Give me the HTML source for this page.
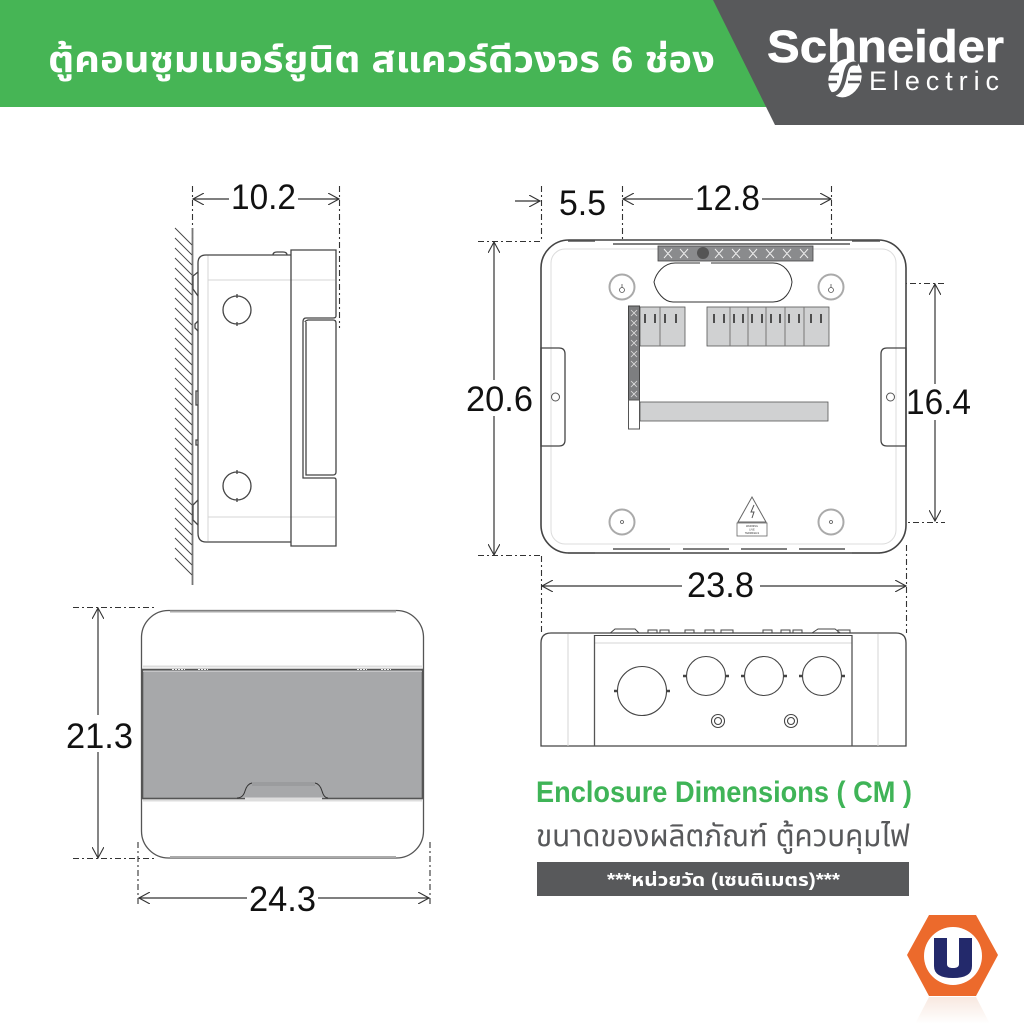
<!DOCTYPE html>
<html><head><meta charset="utf-8"><style>
html,body{margin:0;padding:0;background:#fff;width:1024px;height:1024px;overflow:hidden}
svg{display:block}
text{font-family:"Liberation Sans","Noto Sans Thai","Noto Sans CJK SC",sans-serif}
.d{font-size:35px;fill:#111}
.ln{fill:none;stroke:#333;stroke-width:1.2}
.ds{fill:none;stroke:#333;stroke-width:1.1;stroke-dasharray:6 3 2 3}
.o{fill:none;stroke:#444;stroke-width:1.3}
.lg{fill:none;stroke:#d4d4d4;stroke-width:1}
.b{fill:#d0d1d2;stroke:#555;stroke-width:.8}
</style></head><body>
<svg width="1024" height="1024" viewBox="0 0 1024 1024" xmlns="http://www.w3.org/2000/svg">
<defs>
<marker id="a" markerWidth="12" markerHeight="12" refX="11" refY="6" orient="auto-start-reverse" markerUnits="userSpaceOnUse"><path d="M0 0L11 6L0 12" fill="none" stroke="#333" stroke-width="1.1"/></marker>
<linearGradient id="rf" x1="0" y1="0" x2="0" y2="1"><stop offset="0" stop-color="#f3d9cb"/><stop offset="1" stop-color="#fff"/></linearGradient>
</defs>
<rect width="1024" height="1024" fill="#fff"/>

<!-- header -->
<polygon points="0,0 716,0 768,107 0,107" fill="#46b555"/>
<polygon points="713,0 1024,0 1024,125 775,125" fill="#58595b"/>
<text x="48" y="72" font-size="36" font-weight="700" fill="#fff" textLength="667" lengthAdjust="spacingAndGlyphs">ตู้คอนซูมเมอร์ยูนิต สแควร์ดีวงจร 6 ช่อง</text>
<text x="767" y="62" font-size="45" font-weight="700" fill="#fff" stroke="#fff" stroke-width=".6" textLength="237" lengthAdjust="spacingAndGlyphs">Schneider</text>
<text x="869" y="90" font-size="27" fill="#fff" textLength="130">Electric</text>
<g fill="none" stroke="#fff">
<ellipse cx="845" cy="78" rx="16" ry="20" transform="rotate(25 845 78)" fill="#fff" stroke="none"/>
<path d="M858 64C846 61 846 72 844 80S838 95 831 94" stroke="#58595b" stroke-width="4"/>
<path d="M825 74h14M823 82h14M850 74h14M848 82h12" stroke="#58595b" stroke-width="2.5"/>
</g>

<!-- side view -->
<path d="M192.500 186V240" class="ds"/><path d="M339.500 186V328" class="ds"/>
<line x1="193" y1="199" x2="229" y2="199" class="ln" marker-start="url(#a)"/>
<line x1="298" y1="199" x2="339" y2="199" class="ln" marker-end="url(#a)"/>
<text x="231" y="209" class="d" textLength="65" lengthAdjust="spacingAndGlyphs">10.2</text>
<line x1="192.500" y1="228" x2="192.500" y2="585" stroke="#777" stroke-width="1.8"/>
<path d="M175 228l17 17M175 238l17 17M175 248l17 17M175 258l17 17M175 268l17 17M175 278l17 17M175 288l17 17M175 298l17 17M175 308l17 17M175 318l17 17M175 328l17 17M175 338l17 17M175 348l17 17M175 358l17 17M175 368l17 17M175 378l17 17M175 388l17 17M175 398l17 17M175 408l17 17M175 418l17 17M175 428l17 17M175 438l17 17M175 448l17 17M175 458l17 17M175 468l17 17M175 478l17 17M175 488l17 17M175 498l17 17M175 508l17 17M175 518l17 17M175 528l17 17M175 538l17 17M175 548l17 17M175 558l17 17" stroke="#444" stroke-width=".9" fill="none"/>
<path d="M208 280H335M208 517H335M208 255V541M291 280V517" class="lg"/>
<path d="M291 255H206Q198 255 198 263V533Q198 542 206 542H291" class="o"/>
<path d="M273 255q0-3 4-3h6q4 0 4 3" class="o"/>
<path d="M198 272L193 276V289L198 296M198 500L193 505V520L198 525M198 321l-3 3v4l3 3M198 391h-2v14h2M198 440h-2v5h2" class="o"/>
<path d="M291 250H336V316Q336 318 333 318H306Q303 318 303 322V478H334Q336 478 336 480V546H291Z" class="o" fill="#fff"/>
<path d="M305 322Q305 321 308 320H333Q336 320 336 323V472Q336 475 333 475H306V322" class="o"/>
<circle cx="237" cy="310" r="14" class="o"/><path d="M237 294v4M237 322v4" class="o" stroke-width="2.500"/>
<circle cx="237" cy="486" r="14" class="o"/><path d="M237 470v4M237 498v4" class="o" stroke-width="2.500"/>

<!-- front view -->
<path d="M541.500 186V240M622.500 186V276M831.500 186V280M478 241.500H541M478 555.500H541M840 283.500H945M843 522.500H945M541.500 556V633M906.500 545V633" class="ds"/>
<line x1="515" y1="201" x2="540" y2="201" class="ln" marker-end="url(#a)"/>
<line x1="623" y1="199" x2="693" y2="199" class="ln" marker-start="url(#a)"/>
<line x1="762" y1="199" x2="831" y2="199" class="ln" marker-end="url(#a)"/>
<text x="559" y="215" class="d" textLength="47" lengthAdjust="spacingAndGlyphs">5.5</text>
<text x="695" y="210" class="d" textLength="65" lengthAdjust="spacingAndGlyphs">12.8</text>
<line x1="494" y1="242" x2="494" y2="380" class="ln" marker-start="url(#a)"/>
<line x1="494" y1="416" x2="494" y2="555" class="ln" marker-end="url(#a)"/>
<text x="466" y="411" class="d" textLength="67" lengthAdjust="spacingAndGlyphs">20.6</text>
<line x1="935" y1="284" x2="935" y2="384" class="ln" marker-start="url(#a)"/>
<line x1="935" y1="420" x2="935" y2="521" class="ln" marker-end="url(#a)"/>
<text x="906" y="414" class="d" textLength="65" lengthAdjust="spacingAndGlyphs">16.4</text>
<line x1="542" y1="586" x2="682" y2="586" class="ln" marker-start="url(#a)"/>
<line x1="760" y1="586" x2="906" y2="586" class="ln" marker-end="url(#a)"/>
<text x="687" y="597" class="d" textLength="67" lengthAdjust="spacingAndGlyphs">23.8</text>

<rect x="541" y="240" width="365" height="313" rx="28" fill="#fff" stroke="#444" stroke-width="1.600"/>
<rect x="551" y="249" width="345" height="295" rx="14" fill="none" stroke="#dcdcdc"/>
<path d="M568 241H595M852 241H880M568 553H595M852 553H880M613 549H670M683 549H729M741 549H787M799 549H845M613 244H850" stroke="#555" stroke-width="1.500" fill="none"/>
<rect x="658" y="246" width="155" height="15" fill="#8a8b8d" stroke="#444" stroke-width=".8"/>
<path d="M664 249l8 9m0-9l-8 9M680 249l8 9m0-9l-8 9M715 249l8 9m0-9l-8 9M732 249l8 9m0-9l-8 9M749 249l8 9m0-9l-8 9M766 249l8 9m0-9l-8 9M783 249l8 9m0-9l-8 9M800 249l8 9m0-9l-8 9" stroke="#eee" fill="none"/>
<circle cx="703" cy="253" r="6" fill="#555"/>
<path d="M711 263H773C784 263 791 273 792 282C791 292 784 302 773 302H673C664 302 656 292 654 282C656 273 664 263 675 263H700" fill="none" stroke="#333" stroke-width="1"/>
<g fill="#fff" stroke="#aaa" stroke-width="2"><circle cx="622" cy="287" r="12.500"/><circle cx="831" cy="287" r="12.500"/><circle cx="622" cy="522" r="12.500"/><circle cx="831" cy="522" r="12.500"/></g>
<g fill="none" stroke="#555" stroke-width=".8"><circle cx="622" cy="290" r="2.500"/><path d="M622 284v4"/><circle cx="831" cy="290" r="2.500"/><path d="M831 284v4"/><circle cx="622" cy="522" r="1.500"/><circle cx="831" cy="522" r="1.500"/></g>
<rect x="640" y="307" width="45" height="39" class="b"/><path d="M660 307v39" stroke="#777"/>
<rect x="707" y="307" width="122" height="39" class="b"/><path d="M730 307v39M748 307v39M766 307v39M785 307v39M804 307v39" stroke="#777"/>
<path d="M645 314v9M655 314v9M665 314v9M676 314v9M714 314v9M724 314v9M734 314v9M743 314v9M752 314v9M762 314v9M771 314v9M780 314v9M789 314v9M799 314v9M811 314v9M821 314v9" stroke="#222" stroke-width="1.500"/>
<rect x="628.500" y="306" width="11" height="94" fill="#7d7e80" stroke="#444"/>
<path d="M631 310l6 6m0-6l-6 6M631 320l6 6m0-6l-6 6M631 330l6 6m0-6l-6 6M631 340l6 6m0-6l-6 6M631 351l6 6m0-6l-6 6M631 361l6 6m0-6l-6 6M631 381l6 6m0-6l-6 6M631 391l6 6m0-6l-6 6" stroke="#ddd" stroke-width=".8"/>
<rect x="628.500" y="400" width="11" height="29" fill="#fff" stroke="#555"/>
<rect x="640" y="402" width="188" height="19" class="b"/>
<path d="M541 348H559Q565 348 565 354V440Q565 446 559 446H541Z" fill="#fff" class="o"/>
<path d="M906 348H887Q881 348 881 354V440Q881 446 887 446H906Z" fill="#fff" class="o"/>
<circle cx="555.500" cy="397" r="4" fill="none" stroke="#555"/><circle cx="890.500" cy="397" r="4" fill="none" stroke="#555"/>
<path d="M752 497L766 522H738Z" fill="#fff" stroke="#666"/><rect x="737" y="523" width="30" height="13" fill="#fff" stroke="#666" stroke-width=".8"/>
<path d="M754 505l-3 7h3l-2 6" stroke="#555" fill="none"/>
<text x="752" y="527" font-size="2.500" text-anchor="middle" fill="#333">WARNING</text>
<text x="752" y="530.500" font-size="2.500" text-anchor="middle" fill="#333">LIVE</text>
<text x="752" y="534" font-size="2.500" text-anchor="middle" fill="#333">TERMINALS</text>

<!-- bottom view -->
<path d="M608 635l7-6h20l6 6M809 635l9-6h17l8 6M648 635v-5h9v5M660 635v-5h9v5M685 635v-5h9v5M705 635v-5h9v5M721 635v-5h12v5M763 635v-5h9v5M781 635v-5h9v5M793 635v-5h9v5M838 635v-5h12v5" fill="none" stroke="#444"/>
<path d="M541 746V643Q541 633 551 633H896Q906 633 906 643V746Z" fill="#fff" stroke="#444" stroke-width="1.300"/>
<path d="M568 634V746M878 634V746M594 643H852" class="lg"/>
<path d="M594.500 635V746M852 635V746" stroke="#555" stroke-width="1.300"/>
<path d="M594 635.500H852" stroke="#444"/>
<g fill="#fff" stroke="#444" stroke-width="1.100"><circle cx="642" cy="691" r="24.500"/><circle cx="706" cy="676" r="19.500"/><circle cx="764" cy="676" r="19.500"/><circle cx="822" cy="676" r="19.500"/><circle cx="718" cy="721" r="6.500"/><circle cx="718" cy="721" r="3.500"/><circle cx="791" cy="721" r="6.500"/><circle cx="791" cy="721" r="3.500"/></g>
<path d="M614 691h3M667 691h3M683 676h3M726 676h3M741 676h3M784 676h3M799 676h3M842 676h3" stroke="#444" stroke-width="2.500"/>

<!-- door view -->
<path d="M73 607.500H155M73 858.500H155M138 842V905M430 842V905" class="ds"/>
<line x1="98" y1="608" x2="98" y2="715" class="ln" marker-start="url(#a)"/>
<line x1="98" y1="752" x2="98" y2="858" class="ln" marker-end="url(#a)"/>
<text x="66" y="748" class="d" textLength="67" lengthAdjust="spacingAndGlyphs">21.3</text>
<line x1="139" y1="898" x2="247" y2="898" class="ln" marker-start="url(#a)"/>
<line x1="318" y1="898" x2="429" y2="898" class="ln" marker-end="url(#a)"/>
<text x="249" y="911" class="d" textLength="67" lengthAdjust="spacingAndGlyphs">24.3</text>
<rect x="141.500" y="610.500" width="282" height="247.500" rx="27" fill="#fff" stroke="#555" stroke-width="1.300"/>
<path d="M170 611.500H396M170 857H396" stroke="#aaa" stroke-width="2"/>
<path d="M143 666.500H422M143 800.500H422" stroke="#ddd" stroke-width="2"/>
<rect x="142.500" y="669.500" width="280" height="129" fill="#a7a8aa" stroke="#555" stroke-width="1.600"/>
<path d="M143 671.500H422" stroke="#c5c5c7"/>
<path d="M172 669.500h13M198 669.500h10M357 669.500h10M381 669.500h10" stroke="#eee" stroke-dasharray="2 1"/>
<path d="M237 798Q243 798 245 791T252 783H315Q320 784 322 791T328 798" fill="#a7a8aa" stroke="#333" stroke-width="1"/>
<rect x="252" y="782" width="63" height="4" fill="#9b9c9e"/>
<path d="M245 798.500H322" stroke="#ddd" stroke-width="2"/>

<!-- captions -->
<text x="536" y="802" font-size="30" font-weight="700" fill="#3fb457" textLength="376" lengthAdjust="spacingAndGlyphs">Enclosure Dimensions ( CM )</text>
<text x="536" y="846" font-size="30" fill="#58595b" textLength="374" lengthAdjust="spacingAndGlyphs">ขนาดของผลิตภัณฑ์ ตู้ควบคุมไฟ</text>
<rect x="537" y="862" width="372" height="34" fill="#58595b"/>
<text x="607" y="886" font-size="18" font-weight="700" fill="#fff" textLength="233" lengthAdjust="spacingAndGlyphs">***หน่วยวัด (เซนติเมตร)***</text>

<!-- hex logo -->
<polygon points="929,997 976,997 990,1024 915,1024" fill="url(#rf)" opacity=".6"/>
<polygon points="929,915 976,915 998,955 976,996 929,996 907,955" fill="#ec6a2c"/>
<circle cx="953" cy="956" r="29" fill="#fff"/>
<path d="M934 938H947V964Q947 968 953 968T959 964V938H972V966Q972 978 953 978T934 966Z" fill="#23296b"/>
</svg>
</body></html>
